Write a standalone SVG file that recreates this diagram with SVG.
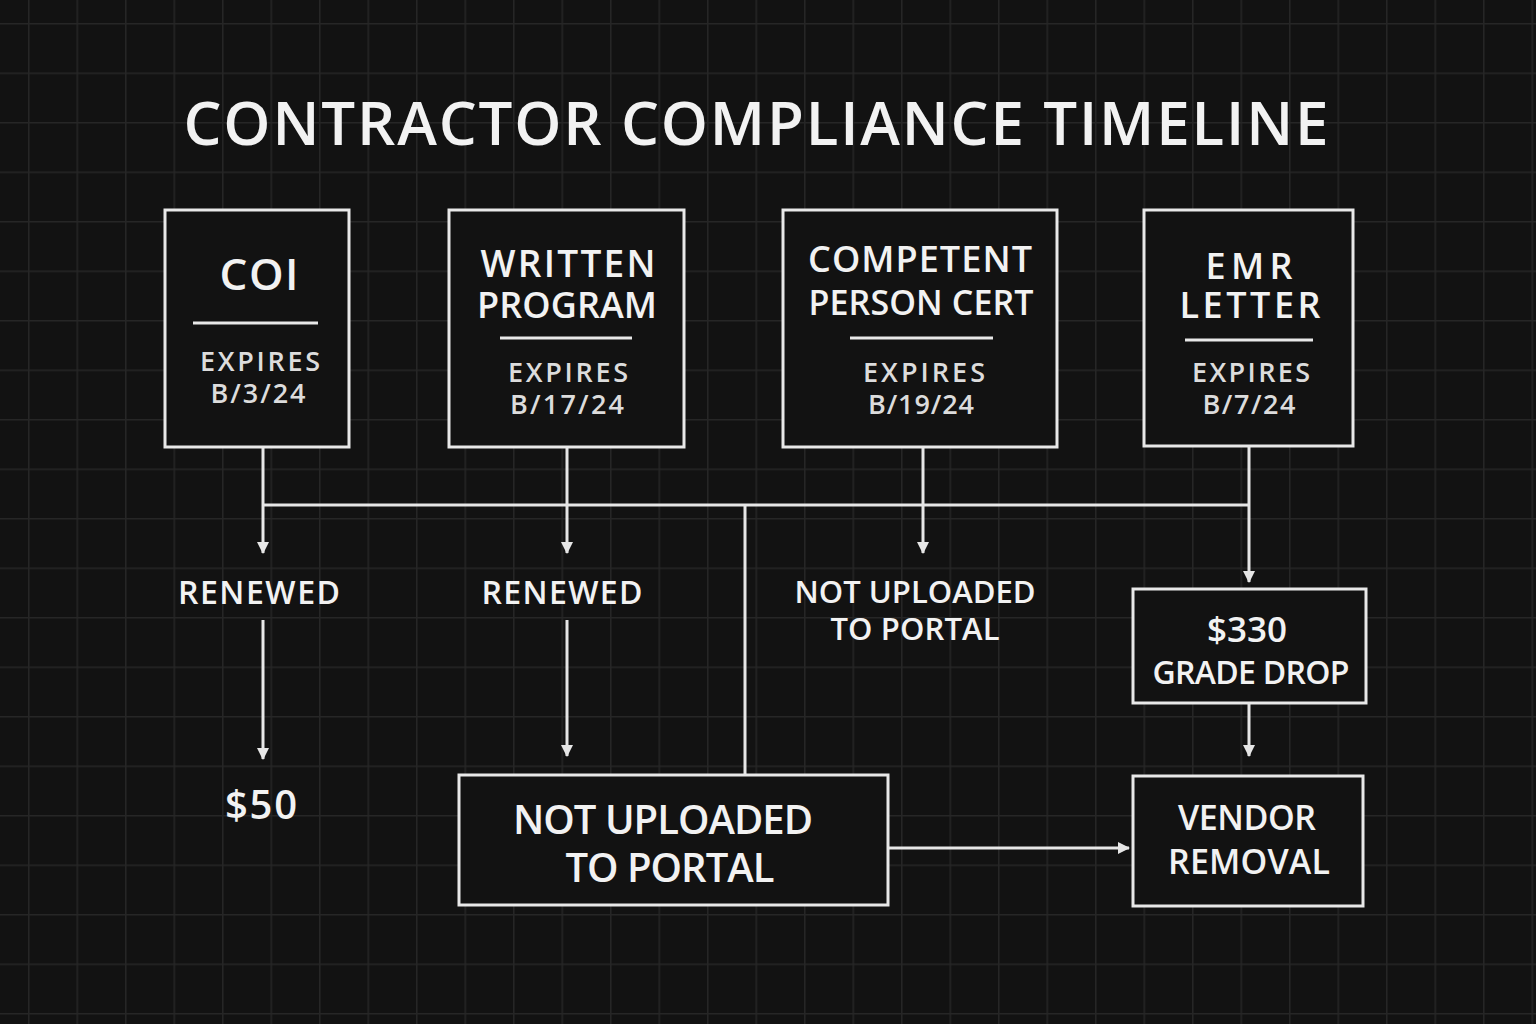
<svg xmlns="http://www.w3.org/2000/svg" width="1536" height="1024" viewBox="0 0 1536 1024">
<defs>
<pattern id="grid" x="28" y="23" width="48.5" height="49.5" patternUnits="userSpaceOnUse">
<path d="M0,0 H48.5 M0,0 V49.5" fill="none" stroke="#262626" stroke-width="3"/>
</pattern>
<marker id="arr" viewBox="0 0 12 12" refX="11" refY="6" markerWidth="12" markerHeight="12" markerUnits="userSpaceOnUse" orient="auto">
<path d="M0,0 L12,6 L0,12 z" fill="#e6e6e6"/>
</marker>
<style>
.box{fill:#121212;stroke:#e8e8e8;stroke-width:3}
.div{stroke:#e8e8e8;stroke-width:3}
.t{font-family:"Open Sans","Liberation Sans",sans-serif;font-weight:600;fill:#f2f2f2;text-anchor:middle}
.s{font-family:"Open Sans","Liberation Sans",sans-serif;font-weight:600;fill:#dcdcdc;text-anchor:middle}
.c{fill:none;stroke:#e6e6e6;stroke-width:3}
</style>
</defs>
<rect width="1536" height="1024" fill="#121212"/>
<rect width="1536" height="1024" fill="url(#grid)"/>
<text class="t" x="756" y="145" font-size="60" textLength="1145" lengthAdjust="spacing">CONTRACTOR COMPLIANCE TIMELINE</text>

<g id="connectors">
<path class="c" d="M263,447 V553" marker-end="url(#arr)"/>
<path class="c" d="M567,447 V553" marker-end="url(#arr)"/>
<path class="c" d="M923,447 V553" marker-end="url(#arr)"/>
<path class="c" d="M1249,447 V582" marker-end="url(#arr)"/>
<path class="c" d="M263,505 H1249"/>
<path class="c" d="M745,505 V775"/>
<path class="c" d="M263,620 V759" marker-end="url(#arr)"/>
<path class="c" d="M567,620 V756" marker-end="url(#arr)"/>
<path class="c" d="M1249,703 V756" marker-end="url(#arr)"/>
<path class="c" d="M888,848 H1129" marker-end="url(#arr)"/>
</g>

<g id="coi">
<rect class="box" x="165" y="210" width="184" height="237"/>
<text class="t" x="259" y="290" font-size="44" textLength="79" lengthAdjust="spacing">COI</text>
<line class="div" x1="193" y1="323" x2="318" y2="323"/>
<text class="s" x="260" y="371" font-size="27" textLength="120" lengthAdjust="spacing">EXPIRES</text>
<text class="s" x="258" y="403" font-size="27" textLength="95" lengthAdjust="spacing">B/3/24</text>
</g>

<g id="written">
<rect class="box" x="449" y="210" width="235" height="237"/>
<text class="t" x="568" y="277" font-size="37" textLength="175" lengthAdjust="spacing">WRITTEN</text>
<text class="t" x="567" y="318" font-size="36" textLength="180" lengthAdjust="spacing">PROGRAM</text>
<line class="div" x1="500" y1="338" x2="632" y2="338"/>
<text class="s" x="568" y="382" font-size="27" textLength="120" lengthAdjust="spacing">EXPIRES</text>
<text class="s" x="567" y="414" font-size="27" textLength="114" lengthAdjust="spacing">B/17/24</text>
</g>

<g id="competent">
<rect class="box" x="783" y="210" width="274" height="237"/>
<text class="t" x="920" y="272" font-size="36" textLength="224" lengthAdjust="spacing">COMPETENT</text>
<text class="t" x="921" y="315" font-size="34" textLength="225" lengthAdjust="spacing">PERSON CERT</text>
<line class="div" x1="850" y1="338" x2="993" y2="338"/>
<text class="s" x="924" y="382" font-size="27" textLength="122" lengthAdjust="spacing">EXPIRES</text>
<text class="s" x="921" y="414" font-size="27" textLength="106" lengthAdjust="spacing">B/19/24</text>
</g>

<g id="emr">
<rect class="box" x="1144" y="210" width="209" height="236"/>
<text class="t" x="1249" y="279" font-size="36" textLength="87" lengthAdjust="spacing">EMR</text>
<text class="t" x="1250" y="318" font-size="36" textLength="141" lengthAdjust="spacing">LETTER</text>
<line class="div" x1="1185" y1="340" x2="1313" y2="340"/>
<text class="s" x="1251" y="382" font-size="27" textLength="118" lengthAdjust="spacing">EXPIRES</text>
<text class="s" x="1249" y="414" font-size="27" textLength="93" lengthAdjust="spacing">B/7/24</text>
</g>

<g id="renewed1">
<text class="t" x="259" y="604" font-size="32" textLength="162" lengthAdjust="spacing">RENEWED</text>
</g>
<g id="renewed2">
<text class="t" x="562" y="604" font-size="32" textLength="161" lengthAdjust="spacing">RENEWED</text>
</g>
<g id="not-uploaded-label">
<text class="t" x="915" y="603" font-size="31" textLength="241" lengthAdjust="spacing">NOT UPLOADED</text>
<text class="t" x="915" y="640" font-size="31" textLength="169" lengthAdjust="spacing">TO PORTAL</text>
</g>
<g id="fifty">
<text class="t" x="261" y="819" font-size="40" textLength="72" lengthAdjust="spacing">$50</text>
</g>

<g id="grade-drop">
<rect class="box" x="1133" y="589" width="233" height="114"/>
<text class="t" x="1247" y="642" font-size="35" textLength="80" lengthAdjust="spacing">$330</text>
<text class="t" x="1251" y="684" font-size="32" textLength="197" lengthAdjust="spacing">GRADE DROP</text>
</g>

<g id="vendor-removal">
<rect class="box" x="1133" y="776" width="230" height="130"/>
<text class="t" x="1247" y="830" font-size="34" textLength="138" lengthAdjust="spacing">VENDOR</text>
<text class="t" x="1249" y="874" font-size="34" textLength="162" lengthAdjust="spacing">REMOVAL</text>
</g>

<g id="not-uploaded-box">
<rect class="box" x="459" y="775" width="429" height="130"/>
<text class="t" x="663" y="834" font-size="40" textLength="300" lengthAdjust="spacing">NOT UPLOADED</text>
<text class="t" x="670" y="882" font-size="40" textLength="209" lengthAdjust="spacing">TO PORTAL</text>
</g>
</svg>
